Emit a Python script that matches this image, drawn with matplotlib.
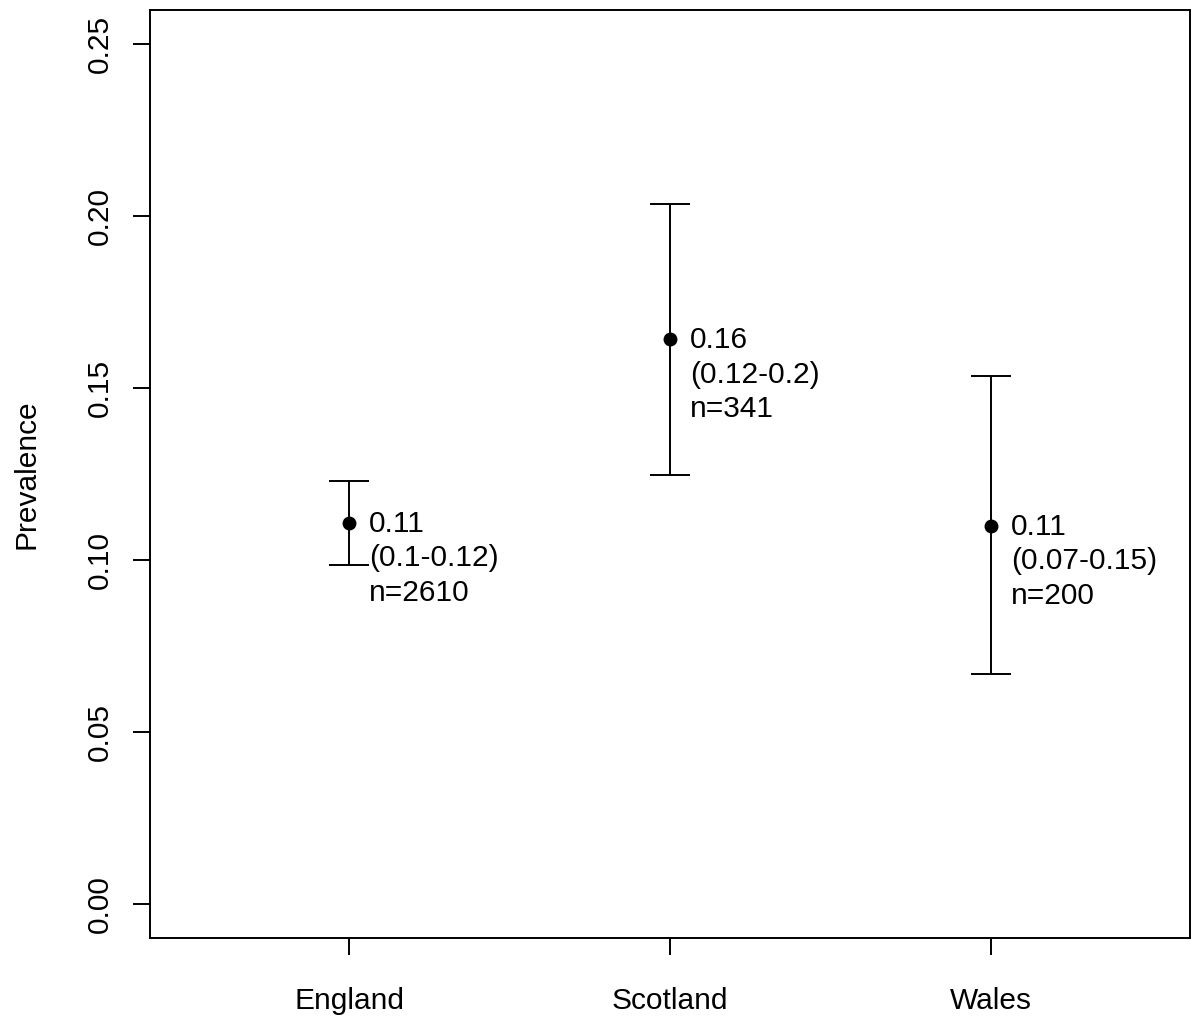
import matplotlib
matplotlib.use("Agg")
import matplotlib.pyplot as plt

plt.rcParams['font.family'] = ['Liberation Sans', 'DejaVu Sans']

# prevalence estimates with confidence limits per country
countries = ["England", "Scotland", "Wales"]
prevalence = [0.1108, 0.1642, 0.1099]
lower = [0.0985, 0.1247, 0.0669]
upper = [0.1230, 0.2035, 0.1535]
n_obs = [2610, 341, 200]


def fmt(v):
    return "{:g}".format(round(v, 2))


fig = plt.figure(figsize=(11.99, 10.19), dpi=100)
ax = fig.add_axes([0.1251, 0.0795, 0.8674, 0.9107])

x = list(range(1, len(countries) + 1))
yerr = [[p - lo for p, lo in zip(prevalence, lower)],
        [up - p for p, up in zip(prevalence, upper)]]
ax.errorbar(x, prevalence, yerr=yerr, fmt='o', color='black', ms=9,
            elinewidth=1.4, capsize=14.4, capthick=1.4)

for xi, p, lo, up, n in zip(x, prevalence, lower, upper, n_obs):
    label = "%s\n(%s-%s)\nn=%d" % (fmt(p), fmt(lo), fmt(up), n)
    ax.annotate(label, (xi, p), xytext=(14.4, 9.5), textcoords='offset points',
                ha='left', va='top', fontsize=21.5, linespacing=1.3)

ax.set_xlim(0.38, 3.62)
ax.set_ylim(-0.01, 0.26)
ax.set_xticks(x)
ax.set_xticklabels(countries)
ax.set_yticks([0.0, 0.05, 0.10, 0.15, 0.20, 0.25])
ax.set_yticklabels(["0.00", "0.05", "0.10", "0.15", "0.20", "0.25"],
                   rotation=90, va='center')
ax.tick_params(axis='both', length=12, width=1.4, labelsize=21.5)
ax.tick_params(axis='x', pad=23)
ax.tick_params(axis='y', pad=14)
for s in ax.spines.values():
    s.set_linewidth(1.4)
ax.set_ylabel("Prevalence", fontsize=21.5)
ax.yaxis.set_label_coords(-0.105, 0.5)

fig.savefig("out.png", dpi=100)
